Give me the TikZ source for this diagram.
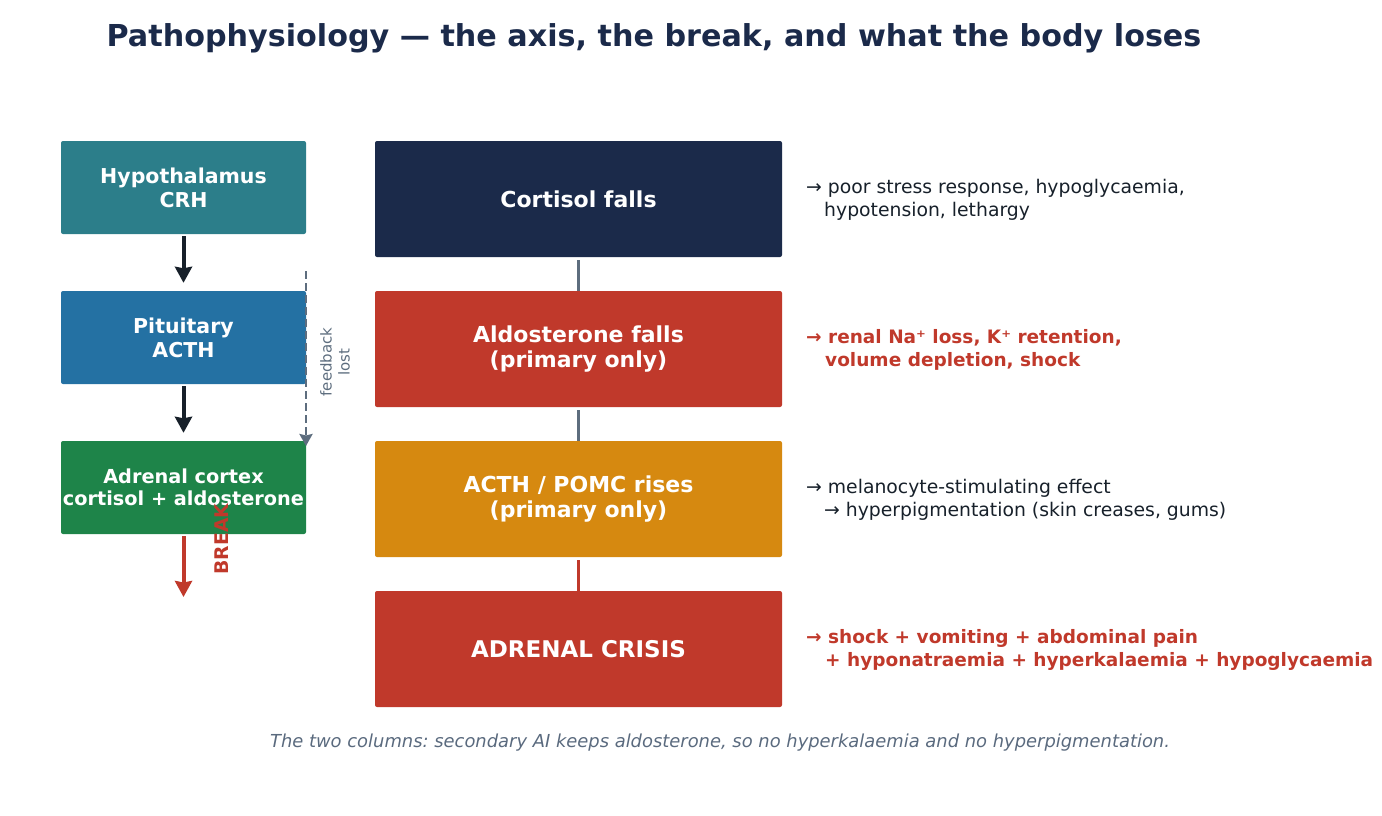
\documentclass[tikz,border=0pt]{standalone}
\usepackage{fontspec}
\setmainfont{DejaVu Sans}
\usetikzlibrary{arrows.meta}
\frenchspacing
\definecolor{cNavy}{HTML}{1B2A4A}
\definecolor{cTeal}{HTML}{2C7E8A}
\definecolor{cBlue}{HTML}{2471A3}
\definecolor{cGreen}{HTML}{1E8449}
\definecolor{cRed}{HTML}{C0392B}
\definecolor{cOrange}{HTML}{D68910}
\definecolor{cGray}{HTML}{5D6D7E}
\definecolor{cDark}{HTML}{17202A}
\definecolor{cFoot}{HTML}{5A6A7E}
\tikzset{
  lbox/.style={rectangle, rounded corners=2pt, inner sep=0pt, minimum width=245pt, minimum height=93pt,
    text=white, align=center, font=\fontsize{20.5}{24}\selectfont\bfseries},
  rbox/.style={rectangle, rounded corners=2pt, inner sep=0pt, minimum width=407pt, minimum height=116pt,
    text=white, align=center, font=\fontsize{22}{24.5}\selectfont\bfseries},
  note/.style={anchor=west, align=left, inner sep=0pt, text=cDark, font=\fontsize{18.8}{22.5}\selectfont},
  rnote/.style={note, text=cRed, font=\fontsize{18.5}{22.5}\selectfont\bfseries},
  flowarrow/.style={line width=4pt, draw=cDark, -{Stealth[length=16pt,width=17pt,inset=1.5pt]}},
  link/.style={line width=3pt, draw=cGray},
}
\begin{document}
\begin{tikzpicture}[x=1pt,y=-1pt]
\useasboundingbox (0,0) rectangle (1382,815);
\node[text=cNavy, font=\fontsize{30.2}{34}\selectfont\bfseries] (title) at (654,38) {Pathophysiology — the axis, the break, and what the body loses};

\node[lbox, fill=cTeal] (hyp) at (183.5,187.5) {Hypothalamus\\CRH};
\node[lbox, fill=cBlue] (pit) at (183.5,337.5) {Pituitary\\ACTH};
\node[lbox, fill=cGreen, font=\fontsize{19.3}{22.5}\selectfont\bfseries] (adr) at (183.5,487.5) {Adrenal cortex\\cortisol + aldosterone};

\draw[flowarrow, shorten <=2pt, shorten >=8pt] (hyp.south) -- (pit.north);
\draw[flowarrow, shorten <=2pt, shorten >=8pt] (pit.south) -- (adr.north);
\coordinate (brk) at (183.5,597);
\draw[flowarrow, draw=cRed, shorten <=2pt] (adr.south) -- (brk);
\node[rotate=90, text=cRed, font=\fontsize{18.8}{21}\selectfont\bfseries] (breaklbl) at (222,539) {BREAK};

\coordinate (fbtop) at (306,271);
\coordinate (fbbot) at (306,446);
\draw[line width=2.6pt, draw=cGray, dash pattern=on 8pt off 4pt, -{Stealth[length=12pt,width=13pt,inset=1.5pt]}] (fbtop) -- (fbbot);
\node[rotate=90, text=cGray, align=center, font=\fontsize{15}{18}\selectfont] (fblbl) at (335,362) {feedback\\lost};

\node[rbox, fill=cNavy] (cort) at (578.5,199) {Cortisol falls};
\node[rbox, fill=cRed] (ald) at (578.5,349) {Aldosterone falls\\(primary only)};
\node[rbox, fill=cOrange] (acth) at (578.5,499) {ACTH / POMC rises\\(primary only)};
\node[rbox, fill=cRed, font=\fontsize{23}{26}\selectfont\bfseries] (crisis) at (578.5,649) {ADRENAL CRISIS};

\draw[link, shorten <=3pt] (cort.south) -- (ald.north);
\draw[link, shorten <=3pt] (ald.south) -- (acth.north);
\draw[link, draw=cRed, shorten <=3pt] (acth.south) -- (crisis.north);

\node[note] (n1) at (806,200) {→ poor stress response, hypoglycaemia,\\\hspace*{18pt}hypotension, lethargy};
\node[rnote] (n2) at (806,350) {→ renal Na⁺ loss, K⁺ retention,\\\hspace*{19pt}volume depletion, shock};
\node[note] (n3) at (806,500) {→ melanocyte-stimulating effect\\\hspace*{18pt}→ hyperpigmentation (skin creases, gums)};
\node[rnote] (n4) at (806,650) {→ shock + vomiting + abdominal pain\\\hspace*{19pt}+ hyponatraemia + hyperkalaemia + hypoglycaemia};

\node[text=cFoot, font=\fontsize{17.9}{21}\selectfont\itshape] (foot) at (720,743) {The two columns: secondary AI keeps aldosterone, so no hyperkalaemia and no hyperpigmentation.};
\end{tikzpicture}
\end{document}
